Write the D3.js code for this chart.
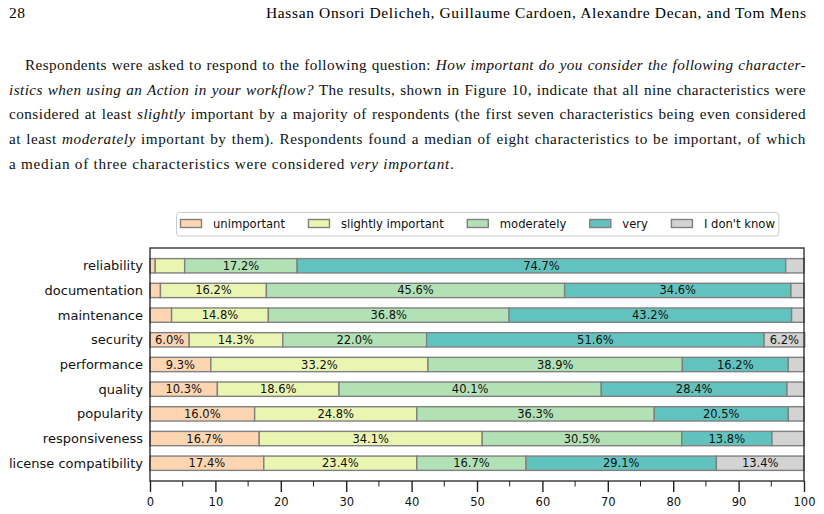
<!DOCTYPE html>
<html>
<head>
<meta charset="utf-8">
<script src="https://cdn.jsdelivr.net/npm/d3@7"></script>
<style>
  body { margin: 0; background: #fff; }
  svg { display: block; }
</style>
</head>
<body>
<div class="canvas"></div>
<script>
// chart data
const categories = ['reliability', 'documentation', 'maintenance', 'security', 'performance',
    'quality', 'popularity', 'responsiveness', 'license compatibility'];
const levels = ['unimportant', 'slightly important', 'moderately', 'very', "I don't know"];
const unimportant = [0.8, 1.6, 3.3, 6.0, 9.3, 10.3, 16.0, 16.7, 17.4];
const slightly    = [4.5, 16.2, 14.8, 14.3, 33.2, 18.6, 24.8, 34.1, 23.4];
const moderately  = [17.2, 45.6, 36.8, 22.0, 38.9, 40.1, 36.3, 30.5, 16.7];
const very        = [74.7, 34.6, 43.2, 51.6, 16.2, 28.4, 20.5, 13.8, 29.1];
const dontKnow    = [2.8, 2.0, 1.9, 6.2, 2.4, 2.6, 2.4, 4.9, 13.4];
const xTicks = [0, 10, 20, 30, 40, 50, 60, 70, 80, 90, 100];
const colors = ['#fdd5b1', '#e9f5b1', '#b2e1b5', '#62c3be', '#d3d3d3'];

const series = [unimportant, slightly, moderately, very, dontKnow];

const W = 824, H = 514;
const svg = d3.select('.canvas').append('svg')
    .attr('width', W)
    .attr('height', H);

// page text (header + paragraph)
const serif = "'Liberation Serif', 'DejaVu Serif', serif";
svg.append('text').attr('x', 9).attr('y', 17.5)
    .attr('font-family', serif).attr('font-size', 15.5).attr('letter-spacing', 0.6).text('28');
svg.append('text').attr('x', 266).attr('y', 17.5)
    .attr('font-family', serif).attr('font-size', 15.5)
    .attr('textLength', 540).attr('lengthAdjust', 'spacing')
    .text('Hassan Onsori Delicheh, Guillaume Cardoen, Alexandre Decan, and Tom Mens');

const lines = [
    {x: 25, y: 70, justify: true, parts: [['Respondents were asked to respond to the following question: ', false], ['How important do you consider the following character-', true]]},
    {x: 9, y: 94.5, justify: true, parts: [['istics when using an Action in your workflow?', true], [' The results, shown in Figure 10, indicate that all nine characteristics were', false]]},
    {x: 9, y: 119, justify: true, parts: [['considered at least ', false], ['slightly', true], [' important by a majority of respondents (the first seven characteristics being even considered', false]]},
    {x: 9, y: 144, justify: true, parts: [['at least ', false], ['moderately', true], [' important by them). Respondents found a median of eight characteristics to be important, of which', false]]},
    {x: 9, y: 168.5, justify: false, parts: [['a median of three characteristics were considered ', false], ['very important', true], ['.', false]]}
];

lines.forEach(l => {
    const t = svg.append('text')
        .attr('x', l.x).attr('y', l.y)
        .attr('font-family', serif).attr('font-size', 15.2)
        .attr('fill', '#111');
    l.parts.forEach(p => {
        t.append('tspan').attr('font-style', p[1] ? 'italic' : 'normal').text(p[0]);
    });
    if (l.justify) {
        const str = l.parts.map(p => p[0]).join('');
        const target = 806 - l.x;
        const natural = t.node().getComputedTextLength();
        const spaces = str.split(' ').length - 1;
        const ls = Math.min(0.75, (target - natural) * 0.8 / str.length);
        t.attr('letter-spacing', ls);
        const withLs = t.node().getComputedTextLength();
        t.attr('word-spacing', (target - withLs) / spaces);
    } else {
        t.attr('letter-spacing', 0.75);
    }
});

// chart area
const plotL = 150, plotR = 804, plotT = 248, plotB = 481;

const x = d3.scaleLinear().domain([0, 100]).range([plotL, plotR]);
const y = d3.scaleLinear().domain([-0.72, categories.length - 1 + 0.72]).range([plotT, plotB]);
const barH = (y(0.58) - y(0));

const sans = "'DejaVu Sans', sans-serif";

const rows = categories.map((c, i) => {
    let acc = 0;
    return series.map((s, k) => {
        const seg = {cat: c, row: i, level: k, value: s[i], x0: acc, x1: acc + s[i]};
        acc += s[i];
        return seg;
    });
}).flat();

const bars = svg.append('g');
bars.selectAll('rect')
    .data(rows)
    .join('rect')
    .attr('x', d => x(d.x0))
    .attr('width', d => x(d.x1) - x(d.x0))
    .attr('y', d => y(d.row) - barH / 2)
    .attr('height', barH)
    .attr('fill', d => colors[d.level])
    .attr('stroke', '#808080')
    .attr('stroke-width', 1.4);

bars.selectAll('text')
    .data(rows.filter(d => d.value > 5))
    .join('text')
    .attr('x', d => x((d.x0 + d.x1) / 2))
    .attr('y', d => y(d.row) + 4)
    .attr('text-anchor', 'middle')
    .attr('font-family', sans)
    .attr('font-size', 11.5)
    .attr('fill', '#111')
    .text(d => d.value.toFixed(1) + '%');

// category labels
svg.append('g').selectAll('text')
    .data(categories)
    .join('text')
    .attr('x', plotL - 7)
    .attr('y', (d, i) => y(i) + 4.5)
    .attr('text-anchor', 'end')
    .attr('font-family', sans)
    .attr('font-size', 13)
    .attr('fill', '#111')
    .text(d => d);

// frame
svg.append('rect')
    .attr('x', plotL).attr('y', plotT)
    .attr('width', plotR - plotL).attr('height', plotB - plotT)
    .attr('fill', 'none')
    .attr('stroke', '#222')
    .attr('stroke-width', 1.3);

// x axis
const xAxis = svg.append('g').attr('transform', `translate(0,${plotB})`)
    .call(d3.axisBottom(x).tickValues(xTicks).tickSize(11).tickPadding(6).tickFormat(d3.format('d')));
xAxis.select('.domain').remove();
xAxis.selectAll('.tick line').attr('stroke', '#222').attr('stroke-width', 1.4);
xAxis.selectAll('.tick text')
    .attr('font-family', sans).attr('font-size', 11.5).attr('fill', '#111');

const minor = d3.range(5, 100, 10);
svg.append('g').selectAll('line')
    .data(minor)
    .join('line')
    .attr('x1', d => x(d)).attr('x2', d => x(d))
    .attr('y1', plotB).attr('y2', plotB + 5.5)
    .attr('stroke', '#222').attr('stroke-width', 1);

// legend
const legend = svg.append('g');
const legBox = legend.append('rect')
    .attr('y', 212.5).attr('height', 23.5).attr('rx', 3)
    .attr('fill', '#fff').attr('stroke', '#cccccc').attr('stroke-width', 1);
let lx = 180.5;
levels.forEach((name, k) => {
    legend.append('rect')
        .attr('x', lx).attr('y', 219.5)
        .attr('width', 21).attr('height', 8)
        .attr('fill', colors[k]).attr('stroke', '#808080').attr('stroke-width', 1.4);
    const t = legend.append('text')
        .attr('x', lx + 32.5).attr('y', 227.5)
        .attr('font-family', sans).attr('font-size', 11.6).attr('fill', '#111')
        .text(name);
    lx += 32.5 + t.node().getComputedTextLength() + 23.5;
});
legBox.attr('x', 176.5).attr('width', lx - 23.5 - 176.5 + 4);
</script>
</body>
</html>
